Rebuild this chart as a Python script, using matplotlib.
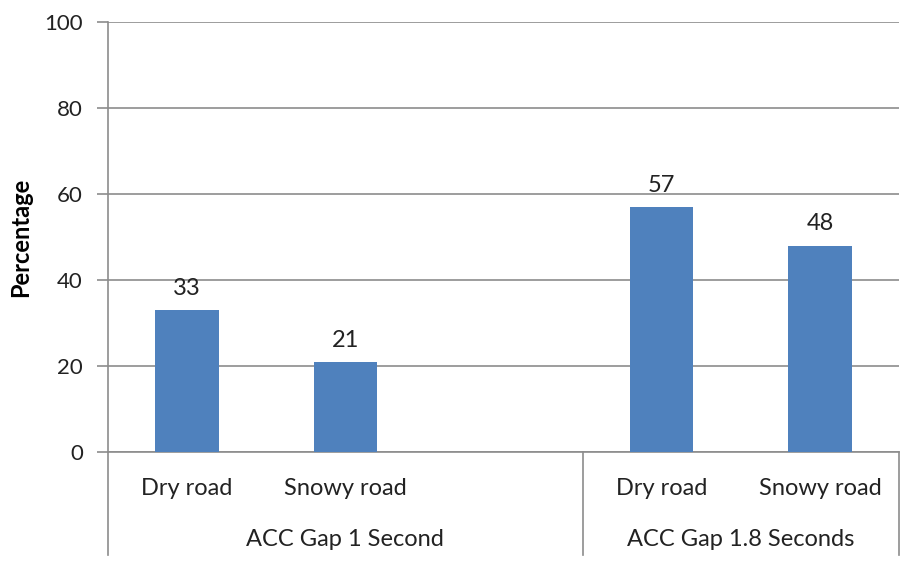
import matplotlib
matplotlib.use("Agg")
import matplotlib.pyplot as plt
from matplotlib.lines import Line2D

plt.rcParams['font.family'] = ['Lato', 'DejaVu Sans']

# Data
categories = ["Dry road", "Snowy road", "", "Dry road", "Snowy road"]
groups = ["ACC Gap 1 Second", "ACC Gap 1.8 Seconds"]
values = [33, 21, None, 57, 48]
y_ticks = [0, 20, 40, 60, 80, 100]

W, H = 903, 562
fig = plt.figure(figsize=(W / 100, H / 100), dpi=100)
left, right, top, bottom = 108, 899, 22, 452
ax = fig.add_axes([left / W, 1 - bottom / H, (right - left) / W, (bottom - top) / H])

bar_color = "#4F81BD"
grid_color = "#8c8c8c"
text_color = "#222222"

xs = [i for i, v in enumerate(values) if v is not None]
vs = [v for v in values if v is not None]
ax.bar(xs, vs, width=0.4, color=bar_color, zorder=3)
for x, v in zip(xs, vs):
    ax.annotate(f"{v}", (x, v), xytext=(0, 8), textcoords="offset points",
                ha="center", va="bottom", fontsize=17, color=text_color)

ax.set_xlim(-0.5, len(categories) - 0.5)
ax.set_ylim(0, 100)
ax.set_yticks(y_ticks)
ax.set_yticklabels([str(t) for t in y_ticks], fontsize=16, color=text_color)
ax.yaxis.grid(True, color=grid_color, linewidth=1.2, zorder=0)
ax.tick_params(axis="y", length=8, width=1.2, color=grid_color, pad=10)
ax.set_xticks([])
for s in ["top", "right"]:
    ax.spines[s].set_visible(False)
ax.spines["left"].set_color(grid_color)
ax.spines["left"].set_linewidth(1.2)
ax.spines["bottom"].set_color(grid_color)
ax.spines["bottom"].set_linewidth(1.2)

ax.set_ylabel("Percentage", fontsize=17, fontweight="bold", labelpad=9)

# Multi-level category axis
trans = ax.get_xaxis_transform()
for i, c in enumerate(categories):
    if c:
        ax.text(i, -0.085, c, transform=trans, ha="center", va="center",
                fontsize=17, color=text_color)
group_spans = [(-0.5, 2.5), (2.5, 4.5)]
for (a, b), g in zip(group_spans, groups):
    ax.text((a + b) / 2, -0.203, g, transform=trans, ha="center", va="center",
            fontsize=17, color=text_color)
axis_bottom = -(555 - bottom) / (bottom - top)
for xpos in [-0.5, 2.5, 4.5]:
    ax.add_line(Line2D([xpos, xpos], [0, axis_bottom], transform=trans,
                       color=grid_color, linewidth=1.2, clip_on=False))

fig.savefig("out.png", dpi=100, facecolor="white")
